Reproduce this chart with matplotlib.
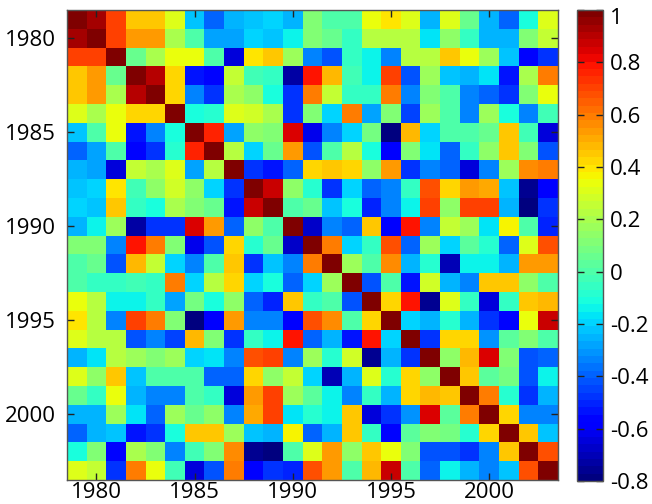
import numpy as np
import matplotlib
matplotlib.use('Agg')
import matplotlib.pyplot as plt
import matplotlib.transforms as mtransforms

## Years on both axes
years = list(range(1979, 2004))
tick_years = [1980, 1985, 1990, 1995, 2000]
cbar_ticks = [-0.8, -0.6, -0.4, -0.2, 0, 0.2, 0.4, 0.6, 0.8, 1]
cbar_labels = ['-0.8', '-0.6', '-0.4', '-0.2', '0', '0.2', '0.4', '0.6', '0.8', '1']

## Upper triangle of the correlation matrix, row i holds columns i+1 .. end
upper = [
    [0.92, 0.71, 0.44, 0.44, 0.30, -0.22, -0.38, -0.26, -0.22, -0.20, -0.26, 0.10, 0.00, 0.00, 0.33, 0.40, 0.30, -0.24, 0.30, 0.05, -0.26, -0.38, -0.10, 0.30],
    [0.71, 0.53, 0.53, 0.20, 0.00, -0.29, -0.29, -0.20, -0.22, -0.15, 0.10, 0.05, -0.05, 0.23, 0.23, 0.23, -0.17, 0.15, -0.05, -0.24, -0.26, 0.10, 0.25],
    [0.05, 0.20, 0.33, 0.33, 0.00, -0.64, 0.40, 0.44, 0.18, -0.35, -0.42, -0.05, -0.15, -0.35, 0.23, 0.23, 0.44, 0.35, 0.18, -0.22, -0.56, -0.47],
    [0.90, 0.42, -0.53, -0.56, 0.25, -0.03, -0.05, -0.74, 0.80, 0.49, -0.03, -0.15, 0.71, -0.42, 0.18, -0.22, -0.26, -0.17, -0.53, 0.20, 0.58],
    [0.42, -0.35, -0.47, 0.20, 0.13, -0.10, -0.47, 0.58, 0.25, -0.05, -0.05, 0.58, -0.35, 0.10, 0.00, -0.35, -0.38, -0.47, 0.10, 0.35],
    [-0.10, -0.08, 0.30, 0.28, 0.20, -0.47, 0.10, -0.20, 0.58, -0.29, 0.10, -0.44, 0.18, 0.00, -0.35, 0.18, -0.10, -0.35, -0.03],
    [0.76, -0.29, 0.13, 0.10, 0.84, -0.62, -0.35, -0.20, 0.08, -0.80, 0.49, -0.20, 0.00, 0.00, 0.05, 0.44, -0.03, -0.64],
    [0.23, -0.20, 0.05, 0.53, -0.42, 0.00, 0.23, -0.10, -0.60, 0.10, -0.17, -0.38, -0.05, 0.13, 0.44, 0.10, -0.42],
    [-0.49, -0.53, -0.40, 0.42, 0.44, 0.42, 0.13, 0.53, -0.47, -0.35, -0.40, -0.64, -0.35, 0.18, 0.55, 0.58],
    [0.86, 0.13, -0.08, -0.47, -0.20, -0.38, -0.33, -0.05, 0.69, 0.42, 0.53, 0.51, -0.22, -0.76, -0.60],
    [0.00, 0.05, -0.22, -0.10, -0.51, -0.35, -0.13, 0.71, 0.15, 0.71, 0.71, -0.26, -0.78, -0.49],
    [-0.66, -0.33, -0.40, 0.46, -0.60, 0.78, -0.35, 0.25, 0.18, -0.17, 0.37, 0.00, -0.51],
    [0.58, -0.20, -0.05, 0.69, -0.38, 0.18, -0.20, 0.02, -0.08, -0.38, 0.30, 0.67],
    [0.18, 0.00, 0.55, -0.24, -0.08, -0.70, -0.15, -0.15, -0.24, 0.53, 0.53],
    [-0.42, 0.00, -0.53, 0.28, -0.26, -0.33, 0.44, 0.46, 0.13, 0.00],
    [0.42, 0.78, -0.76, 0.30, -0.05, -0.64, -0.05, 0.44, 0.49],
    [-0.20, -0.24, -0.08, -0.24, -0.47, -0.56, 0.35, 0.88],
    [-0.49, 0.42, 0.42, -0.31, 0.02, 0.10, 0.00],
    [0.13, 0.49, 0.84, 0.10, -0.42, -0.38],
    [0.44, 0.02, 0.08, -0.42, -0.15],
    [0.58, -0.08, -0.47, -0.24],
    [0.42, -0.35, -0.35],
    [0.44, -0.22],
    [0.67],
]

## Build the full symmetric matrix with ones on the diagonal
n = len(years)
corr = np.eye(n)
for i, row in enumerate(upper):
    for k, v in enumerate(row):
        corr[i, i + 1 + k] = v
        corr[i + 1 + k, i] = v

plt.rcParams['font.family'] = ['Open Sans', 'DejaVu Sans']

fig = plt.figure(figsize=(6.52, 5.04), dpi=100)
ax = fig.add_axes([0.1028, 0.0476, 0.753, 0.9325])
cax = fig.add_axes([0.885, 0.0456, 0.040, 0.9345])

cmap = plt.get_cmap('jet', 64)
half = 0.5
im = ax.imshow(corr, cmap=cmap, vmin=-0.8, vmax=1.0, aspect='auto', interpolation='nearest',
               extent=[years[0] - half, years[-1] + half, years[-1] + half, years[0] - half])

ax.set_xticks(tick_years)
ax.set_yticks(tick_years)
ax.set_xticklabels([str(y) for y in tick_years])
ax.set_yticklabels([str(y) for y in tick_years])
ax.tick_params(direction='in', length=5, width=1, labelsize=16, top=True, right=True,
               color='#222222')
ax.tick_params(axis='x', pad=1.5)
ax.tick_params(axis='y', pad=8)
for sp in ax.spines.values():
    sp.set_color('#555555')
    sp.set_linewidth(1)

cb = fig.colorbar(im, cax=cax, ticks=cbar_ticks)
cb.ax.set_yticklabels(cbar_labels)
cb.ax.tick_params(direction='in', length=5, width=1, labelsize=16, left=True, right=True,
                  color='#222222', pad=5)
cb.outline.set_edgecolor('#555555')
cb.outline.set_linewidth(1)

## Top colorbar label sits a little lower, inside the figure
top_lbl = cb.ax.get_yticklabels()[-1]
top_lbl.set_transform(top_lbl.get_transform() +
                      mtransforms.ScaledTranslation(0, -4 / 72, fig.dpi_scale_trans))

plt.savefig('out.png', dpi=100)
